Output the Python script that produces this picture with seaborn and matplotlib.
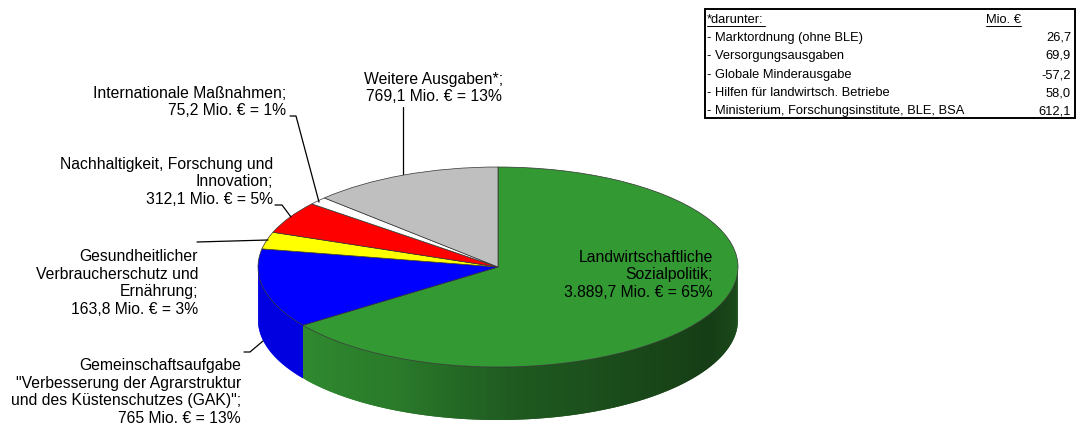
import numpy as np
import matplotlib
matplotlib.use("Agg")
import matplotlib.pyplot as plt
import seaborn as sns

# Ausgaben in Mio. Euro
werte = [3889.7, 765, 163.8, 312.1, 75.2, 769.1]
farben = ["#339933", "#0000ff", "#ffff00", "#ff0000", "#ffffff", "#bfbfbf"]

labels = [
    "Landwirtschaftliche\nSozialpolitik;\n3.889,7 Mio. € = 65%",
    "Gemeinschaftsaufgabe\n\"Verbesserung der Agrarstruktur\nund des Küstenschutzes (GAK)\";\n765 Mio. € = 13%",
    "Gesundheitlicher\nVerbraucherschutz und\nErnährung;\n163,8 Mio. € = 3%",
    "Nachhaltigkeit, Forschung und\nInnovation;\n312,1 Mio. € = 5%",
    "Internationale Maßnahmen;\n75,2 Mio. € = 1%",
    "Weitere Ausgaben*;\n769,1 Mio. € = 13%",
]
label_x = [713, 241, 198, 273, 286, 434]
label_y = [275, 392, 283, 182, 102, 88]
label_ha = ["right", "right", "right", "right", "right", "center"]

leader_x = [[244, 250, 263], [197, 268], [275, 282, 291], [290, 296, 319], [403, 403]]
leader_y = [[352, 352, 341], [242, 240], [205, 205, 217], [116, 116, 202], [107, 174]]

tabelle_namen = ["- Marktordnung (ohne BLE)", "- Versorgungsausgaben", "- Globale Minderausgabe",
                 "- Hilfen für landwirtsch. Betriebe", "- Ministerium, Forschungsinstitute, BLE, BSA"]
tabelle_werte = ["26,7", "69,9", "-57,2", "58,0", "612,1"]

sns.set_theme(style="white")
plt.rcParams["font.family"] = ["Liberation Sans", "DejaVu Sans"]

fig = plt.figure(figsize=(10.8, 4.32), dpi=100)
ax = fig.add_axes([0, 0, 1, 1])

# Kreis liegt bei (498, 267), Radien 240 und 100 Pixel
cx, cy, rx, ry = 498, 267, 240, 100
tiefe = 53 / ry

ax.pie(werte, colors=farben, startangle=90, counterclock=False,
       wedgeprops={"edgecolor": "#333333", "linewidth": 0.5, "zorder": 5})
ax.set_aspect("auto")
ax.set_xlim(-cx / rx, (1080 - cx) / rx)
ax.set_ylim((cy - 432) / ry, cy / ry)

# Seitenwand unter dem sichtbaren Rand
anteile = np.cumsum([0] + werte) / sum(werte)
winkel = 90 - anteile * 360
gruen_verlauf = sns.blend_palette(["#2f8a2f", "#2a7a2a", "#1f5a20", "#1a4a1a", "#163d16", "#1c4f1c"], 120)
blau_verlauf = sns.blend_palette(["#0000e0", "#0000e0"], 30)

def wand(w0, w1, palette):
    # nur die untere Haelfte der Ellipse ist sichtbar
    w = np.linspace(w0, w1, len(palette) + 1)
    for i, col in enumerate(palette):
        # Segmente ueberlappen, sonst gibt es Streifen
        t = np.radians(np.linspace(w[i], w[min(i + 2, len(palette))], 5))
        x = np.cos(t)
        y = np.sin(t)
        ax.fill(np.r_[x, x[::-1]], np.r_[y, y[::-1] - tiefe], color=col, lw=0, zorder=1 + i * 0.001)

wand(-180, winkel[1], blau_verlauf)
wand(winkel[1], 0, gruen_verlauf)

# Texte und Linien in Pixeln
ov = fig.add_axes([0, 0, 1, 1], facecolor="none")
ov.set_xlim(0, 1080)
ov.set_ylim(432, 0)
ov.axis("off")

for txt, x, y, ha in zip(labels, label_x, label_y, label_ha):
    ov.text(x, y, txt, ha=ha, va="center", multialignment=ha, fontsize=11.3, color="black", linespacing=1.24)
for xs, ys in zip(leader_x, leader_y):
    ov.plot(xs, ys, color="black", lw=0.9)

# Tabelle oben rechts
ov.add_patch(plt.Rectangle((705, 9), 370, 109, fill=False, edgecolor="black", lw=1.4))
ov.text(707, 20, "*darunter:", fontsize=9.3, va="center", color="black")
ov.plot([707, 765], [26, 26], color="black", lw=0.7)
ov.text(986, 20, "Mio. €", fontsize=9.3, va="center", color="black")
ov.plot([986, 1021], [26, 26], color="black", lw=0.7)
zeilen_y = [38, 56, 75, 93, 111]
for name, wert, y in zip(tabelle_namen, tabelle_werte, zeilen_y):
    ov.text(707, y, name, fontsize=9.3, va="center", color="black")
    ov.text(1071, y, wert, fontsize=9.3, va="center", ha="right", color="black")

fig.savefig("out.png", dpi=100)
